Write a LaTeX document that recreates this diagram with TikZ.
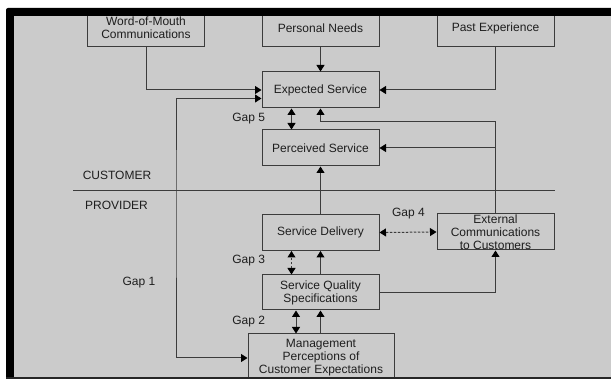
\documentclass[tikz,border=0pt]{standalone}
\usepackage{fontspec}
\setmainfont{Liberation Sans}
\usetikzlibrary{arrows.meta}
\definecolor{bg}{HTML}{CBCBCB}
\definecolor{ln}{HTML}{3C3C3C}
\definecolor{tx}{HTML}{1E1E1E}
\begin{document}
\begin{tikzpicture}[x=1pt,y=-1pt,
  every node/.style={font=\fontsize{12}{13}\selectfont, text=tx},
  box/.style={draw=ln, line width=1pt, minimum width=117pt, minimum height=36pt, inner sep=0pt, align=center},
  lbl/.style={inner sep=0pt},
  tip/.tip={Triangle[length=6.5pt,width=8pt,color=black]},
  conn/.style={draw=ln, line width=1pt, -tip},
  conn2/.style={draw=ln, line width=1pt, tip-tip},
  plain/.style={draw=ln, line width=1pt},
  dsh/.style={dash pattern=on 2.5pt off 1.5pt}
  ]
\useasboundingbox (0,0) rectangle (611,379);
\clip (0,0) rectangle (611,379);
\fill[bg] (14,16) rectangle (620,377);

% boxes
\node[box, minimum height=38pt] (wom) at (146,28) {Word-of-Mouth\\Communications};
\node[box, minimum height=38pt] (pn) at (320.5,28) {Personal Needs};
\node[box, minimum height=38pt] (pe) at (495.5,28) {Past Experience};
\node[box] (exp) at (320.5,90) {Expected Service};
\node[box] (perc) at (320.5,148) {Perceived Service};
\node[box] (sd) at (320.5,232.5) {Service Delivery};
\node[box] (ext) at (495.5,232) {External\\Communications\\to Customers};
\node[box, minimum height=35pt] (sqs) at (320.5,292.5) {Service Quality\\Specifications};
\node[box, minimum width=146pt, minimum height=48pt] (mgmt) at (321,358) {Management\\Perceptions of\\Customer Expectations};

% labels
\node[lbl] (g5) at (248.6,119) {Gap 5};
\node[lbl] (g4) at (408.4,214) {Gap 4};
\node[lbl] (g3) at (248.6,261) {Gap 3};
\node[lbl] (g1l) at (139,283) {Gap 1};
\node[lbl] (g2) at (248.6,322) {Gap 2};
\node[lbl] (cust) at (117,175) {CUSTOMER};
\node[lbl] (prov) at (116.5,205) {PROVIDER};

% separator
\coordinate (sepL) at (73,191);
\coordinate (sepR) at (555,191);
\draw[plain] (sepL) -- (sepR);

% connectors
\draw[conn] (pn.south) -- (exp.north);
\draw[conn] (wom.south) |- (exp.west);
\draw[conn] (pe.south) |- (exp.east);
\coordinate (g1) at (176,200);
\draw[conn2] ([yshift=-8.5pt]exp.west) -| (g1) |- (mgmt.west);
\draw[conn2] ([xshift=-29pt]exp.south) -- ([xshift=-29pt]perc.north);
\coordinate (bend) at (0,122);
\draw[conn] (ext.north) -- (ext.north |- bend) -| (exp.south);
\draw[conn] (ext.north |- perc.east) -- (perc.east);
\draw[conn] (sd.north) -- (perc.south);
\draw[conn2, dsh] (sd.east) -- (ext.west);
\draw[conn] (sqs.north) -- (sd.south);
\draw[conn2, dsh] ([xshift=-29pt]sqs.north) -- ([xshift=-29pt]sd.south);
\draw[conn] (sqs.east) -| (ext.south);
\draw[conn] (mgmt.north -| sqs.south) -- (sqs.south);
\draw[conn2] ([xshift=-24.5pt]sqs.south) -- ([xshift=-24.5pt]sqs.south |- mgmt.north);

% frame
\fill[black, rounded corners=2pt] (6,8) rectangle (630,16);
\fill[black] (6,12) rectangle (14,379);
\fill[black!85] (6,377) rectangle (630,379);
\end{tikzpicture}
\end{document}
